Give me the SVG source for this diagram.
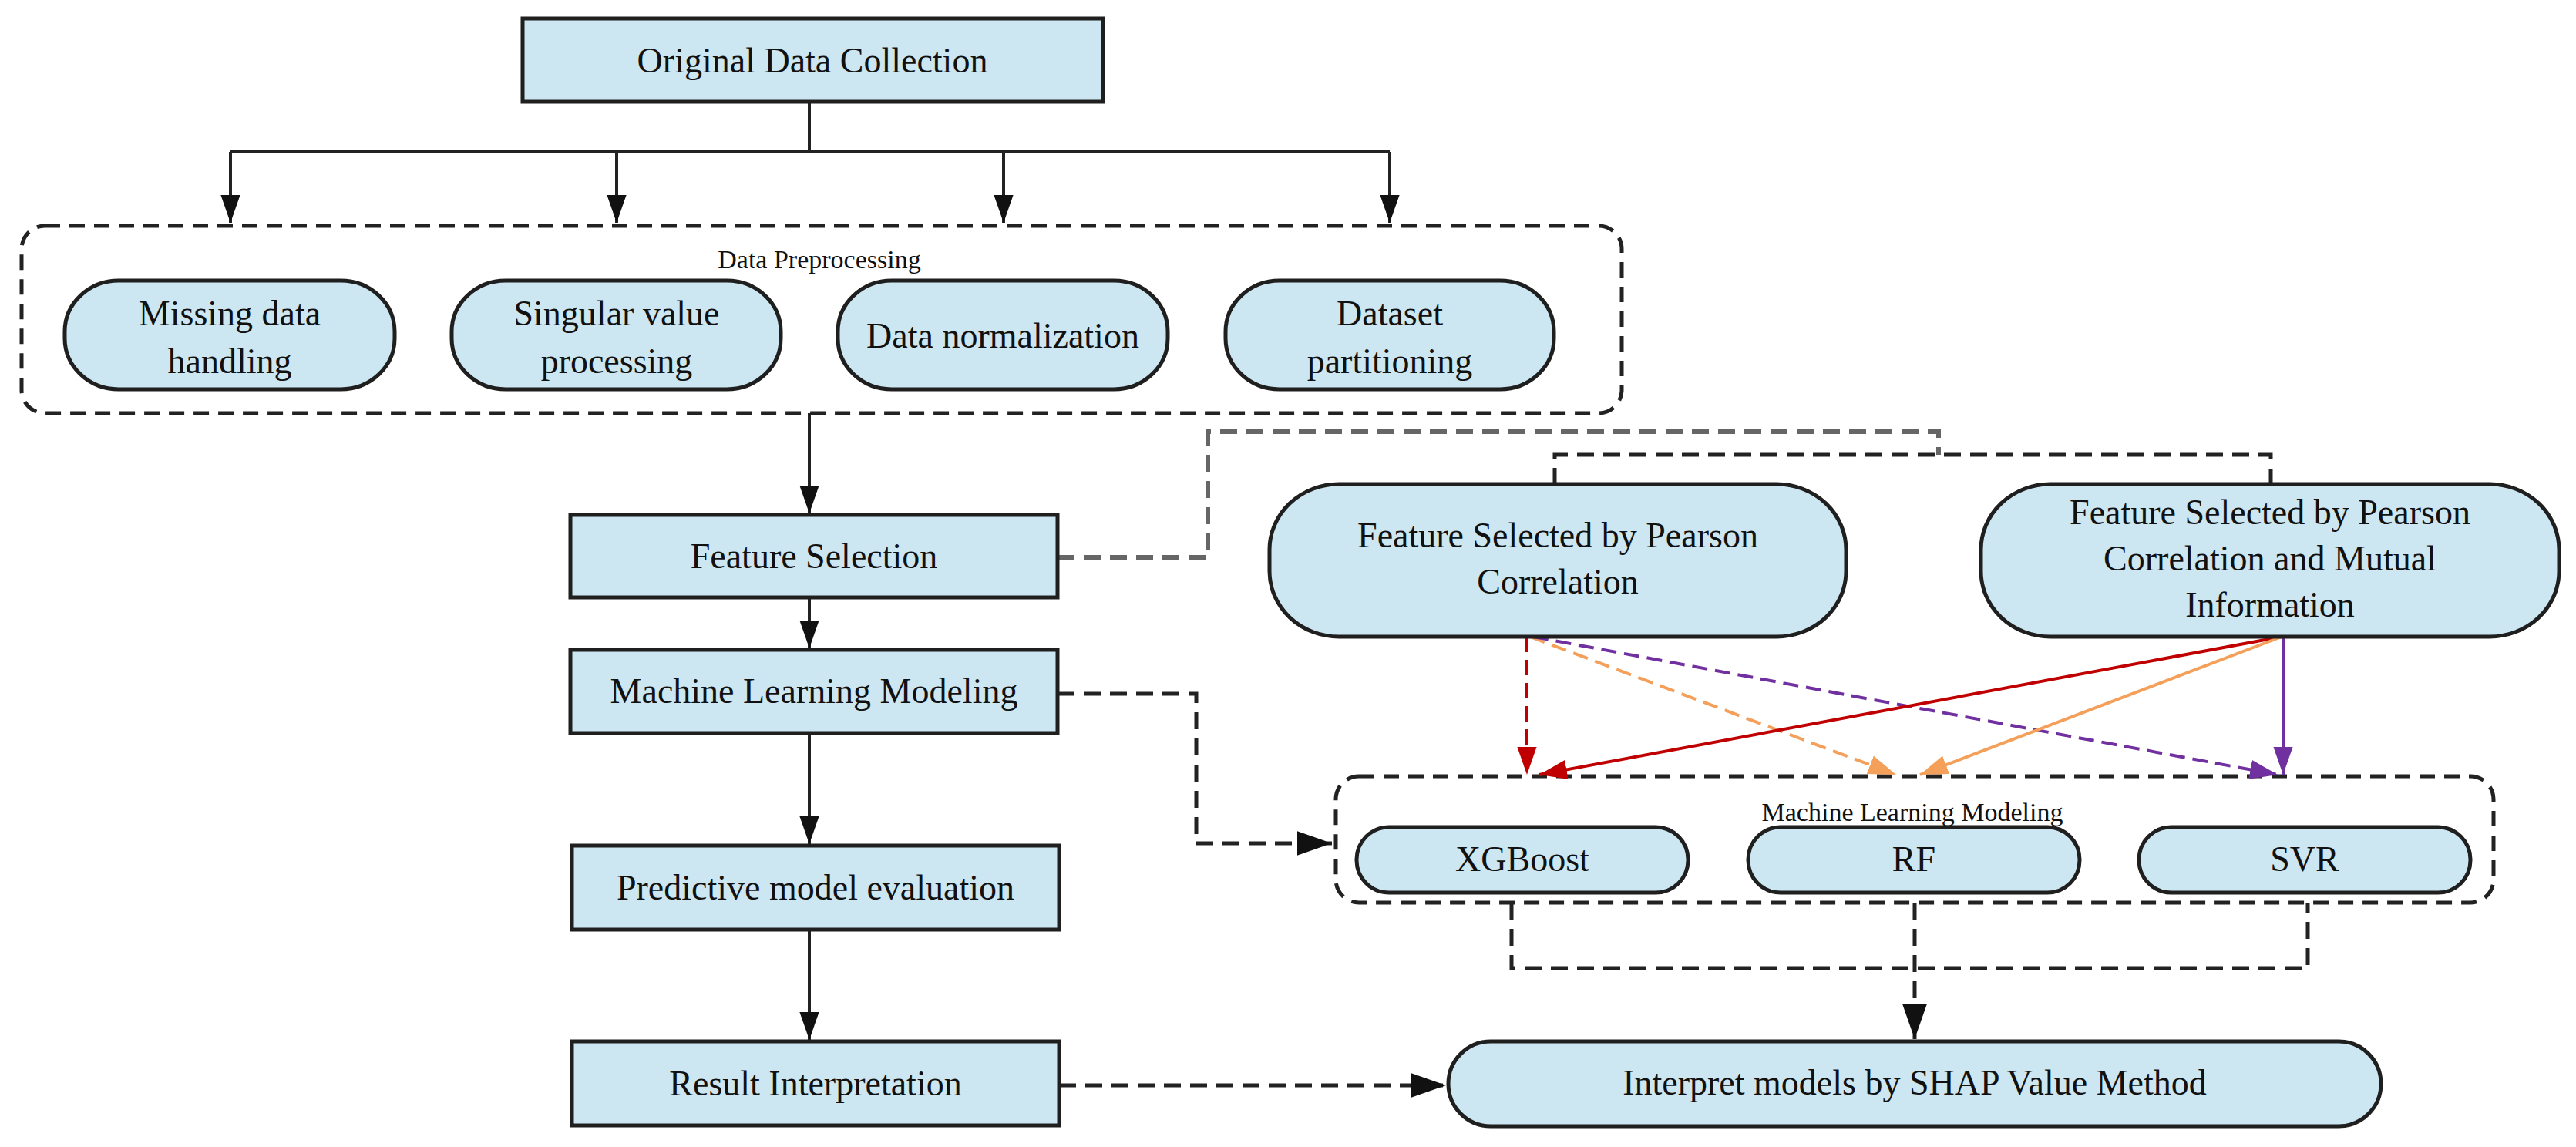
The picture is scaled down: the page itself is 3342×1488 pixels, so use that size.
<svg xmlns="http://www.w3.org/2000/svg" width="3342" height="1488" viewBox="0 0 3342 1488">
<style>
.n{fill:#cde7f2;stroke:#1f1f1f;stroke-width:5}
.t{font-family:"Liberation Serif",serif;font-size:46px;fill:#111;text-anchor:middle}
.s{font-family:"Liberation Serif",serif;font-size:34px;fill:#111;text-anchor:middle}
.c{fill:none;stroke:#222;stroke-width:4}
.d{fill:none;stroke:#222;stroke-width:5;stroke-dasharray:22 12}
.g{fill:none;stroke:#666;stroke-width:6;stroke-dasharray:22 12}
.grp{fill:none;stroke:#222;stroke-width:5;stroke-dasharray:20 12}
</style>
<defs>
<marker id="ab" viewBox="0 0 10 10" refX="10" refY="5" markerWidth="9" markerHeight="9" orient="auto"><path d="M0,1.5L10,5L0,8.5z" fill="#111"/></marker>
<marker id="ar" viewBox="0 0 10 10" refX="10" refY="5" markerWidth="9" markerHeight="9" orient="auto"><path d="M0,1.5L10,5L0,8.5z" fill="#c00000"/></marker>
<marker id="ao" viewBox="0 0 10 10" refX="10" refY="5" markerWidth="9" markerHeight="9" orient="auto"><path d="M0,1.5L10,5L0,8.5z" fill="#f4a05a"/></marker>
<marker id="ap" viewBox="0 0 10 10" refX="10" refY="5" markerWidth="9" markerHeight="9" orient="auto"><path d="M0,1.5L10,5L0,8.5z" fill="#7030a0"/></marker>
</defs>
<g id="groups">
<rect class="grp" x="28" y="293" width="2076" height="243" rx="30"/>
<text class="s" x="1063" y="348">Data Preprocessing</text>
<rect class="grp" x="1733" y="1007" width="1502" height="164" rx="30"/>
<text class="s" x="2481" y="1065">Machine Learning Modeling</text>
</g>
<g id="connectors">
<path class="c" d="M1050,132V197M299,197H1803"/>
<path class="c" d="M299,197V289" marker-end="url(#ab)"/>
<path class="c" d="M800,197V289" marker-end="url(#ab)"/>
<path class="c" d="M1302,197V289" marker-end="url(#ab)"/>
<path class="c" d="M1803,197V289" marker-end="url(#ab)"/>
<path class="c" d="M1050,536V666" marker-end="url(#ab)"/>
<path class="c" d="M1050,775V841" marker-end="url(#ab)"/>
<path class="c" d="M1050,951V1095" marker-end="url(#ab)"/>
<path class="c" d="M1050,1206V1349" marker-end="url(#ab)"/>
<path class="g" d="M1372,723H1567V560H2515V590"/>
<path class="d" d="M2017,629V590H2946V629"/>
<path class="d" d="M1372,900H1552V1094H1728" marker-end="url(#ab)"/>
<path class="d" d="M1374,1408H1876" marker-end="url(#ab)"/>
<path class="d" d="M1961,1171V1256H2994V1171M2484,1171V1348" marker-end="url(#ab)"/>
<path d="M1981,826V1005" fill="none" stroke="#c00000" stroke-width="4" stroke-dasharray="20 10" marker-end="url(#ar)"/>
<path d="M1985,826L2460,1005" fill="none" stroke="#f4a05a" stroke-width="4" stroke-dasharray="20 10" marker-end="url(#ao)"/>
<path d="M1989,826L2955,1005" fill="none" stroke="#7030a0" stroke-width="4" stroke-dasharray="20 10" marker-end="url(#ap)"/>
<path d="M2960,826L1997,1005" fill="none" stroke="#c00000" stroke-width="4" marker-end="url(#ar)"/>
<path d="M2960,826L2491,1005" fill="none" stroke="#f4a05a" stroke-width="4" marker-end="url(#ao)"/>
<path d="M2962,826V1005" fill="none" stroke="#7030a0" stroke-width="4" marker-end="url(#ap)"/>
</g>
<g id="n-orig"><rect class="n" x="678" y="24" width="753" height="108"/><text class="t" x="1054" y="94">Original Data Collection</text></g>
<g id="n-missing"><rect class="n" x="84" y="364" width="428" height="141" rx="70" ry="66"/><text class="t" x="298" y="422">Missing data</text><text class="t" x="298" y="484">handling</text></g>
<g id="n-singular"><rect class="n" x="586" y="364" width="427" height="141" rx="70" ry="66"/><text class="t" x="800" y="422">Singular value</text><text class="t" x="800" y="484">processing</text></g>
<g id="n-norm"><rect class="n" x="1087" y="364" width="428" height="141" rx="70" ry="66"/><text class="t" x="1301" y="451">Data normalization</text></g>
<g id="n-part"><rect class="n" x="1590" y="364" width="426" height="141" rx="70" ry="66"/><text class="t" x="1803" y="422">Dataset</text><text class="t" x="1803" y="484">partitioning</text></g>
<g id="n-fs"><rect class="n" x="740" y="668" width="632" height="107"/><text class="t" x="1056" y="737">Feature Selection</text></g>
<g id="n-ml"><rect class="n" x="740" y="843" width="632" height="108"/><text class="t" x="1056" y="912">Machine Learning Modeling</text></g>
<g id="n-pred"><rect class="n" x="742" y="1097" width="632" height="109"/><text class="t" x="1058" y="1167">Predictive model evaluation</text></g>
<g id="n-res"><rect class="n" x="742" y="1351" width="632" height="109"/><text class="t" x="1058" y="1421">Result Interpretation</text></g>
<g id="n-pearson"><rect class="n" x="1647" y="628" width="748" height="198" rx="90" ry="85"/><text class="t" x="2021" y="710">Feature Selected by Pearson</text><text class="t" x="2021" y="770">Correlation</text></g>
<g id="n-pmi"><rect class="n" x="2570" y="628" width="750" height="198" rx="90" ry="85"/><text class="t" x="2945" y="680">Feature Selected by Pearson</text><text class="t" x="2945" y="740">Correlation and Mutual</text><text class="t" x="2945" y="800">Information</text></g>
<g id="n-xgb"><rect class="n" x="1760" y="1073" width="430" height="85" rx="42"/><text class="t" x="1975" y="1130">XGBoost</text></g>
<g id="n-rf"><rect class="n" x="2268" y="1073" width="430" height="85" rx="42"/><text class="t" x="2483" y="1130">RF</text></g>
<g id="n-svr"><rect class="n" x="2775" y="1073" width="430" height="85" rx="42"/><text class="t" x="2990" y="1130">SVR</text></g>
<g id="n-shap"><rect class="n" x="1879" y="1351" width="1210" height="110" rx="55"/><text class="t" x="2484" y="1420">Interpret models by SHAP Value Method</text></g>
</svg>
